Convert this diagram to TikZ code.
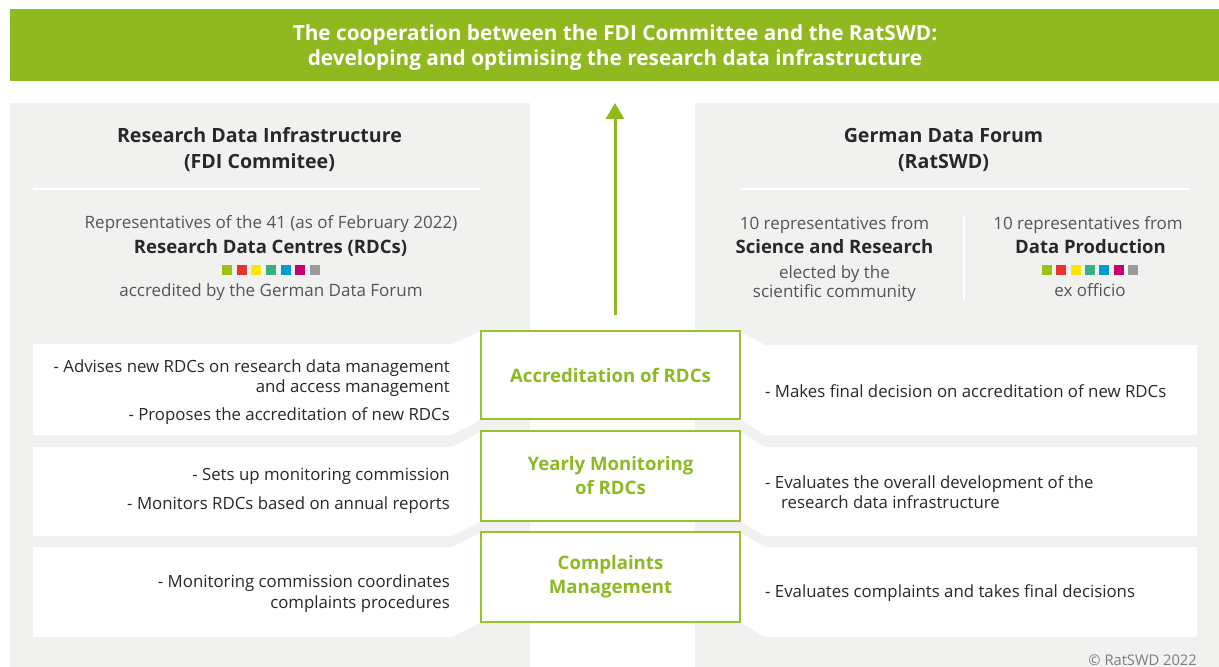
\documentclass[tikz,border=0pt]{standalone}
\usepackage{fontspec}
\setmainfont{Open Sans}
\usetikzlibrary{arrows.meta}

\definecolor{hdrgreen}{RGB}{143,185,30}
\definecolor{boxgreen}{RGB}{152,195,45}
\definecolor{lblgreen}{RGB}{141,185,35}
\definecolor{panelgray}{RGB}{241,241,240}
\definecolor{darktxt}{RGB}{40,40,40}
\definecolor{softtxt}{RGB}{85,85,85}
\definecolor{notetxt}{RGB}{125,125,125}
\definecolor{sqA}{RGB}{155,195,20}
\definecolor{sqB}{RGB}{233,50,50}
\definecolor{sqC}{RGB}{255,230,0}
\definecolor{sqD}{RGB}{60,175,130}
\definecolor{sqE}{RGB}{0,155,215}
\definecolor{sqF}{RGB}{200,0,110}
\definecolor{sqG}{RGB}{155,155,155}

\tikzset{
  plain/.style={inner sep=0pt, anchor=base, text=darktxt, font=\fontsize{16.8}{20}\selectfont},
  soft/.style={plain, text=softtxt, font=\fontsize{17}{20}\selectfont},
  strong/.style={plain, font=\fontsize{18.5}{22}\selectfont\bfseries},
  title/.style={plain, font=\fontsize{19.6}{25}\selectfont\bfseries},
  headline/.style={plain, text=white, font=\fontsize{20.8}{25}\selectfont\bfseries},
  stagebox/.style={draw=boxgreen, line width=1.6pt, fill=white, minimum width=259pt,
    align=center, text=lblgreen, font=\fontsize{18.6}{24}\selectfont\bfseries},
  rowfill/.style={fill=white},
  divider/.style={draw=white, line width=1.6pt},
  upflow/.style={draw=hdrgreen, line width=3pt, -{Triangle[width=18pt,length=16pt]}},
}

\begin{document}
\begin{tikzpicture}[x=1pt,y=-1pt]
\useasboundingbox (0,0) rectangle (1219,667);
\fill[white] (0,0) rectangle (1219,667);

% header band
\fill[hdrgreen] (10,9) rectangle (1219,81);
\node[headline, anchor=base] (head1) at (615,40) {The cooperation between the FDI Committee and the RatSWD:};
\node[headline, anchor=base] (head2) at (615,65) {developing and optimising the research data infrastructure};

% the two side panels
\fill[panelgray] (10,103) rectangle (530,667);
\fill[panelgray] (695,103) rectangle (1219,667);

% white rows, joined to the stage boxes by slanted edges
\fill[rowfill] (33,344) -- (452,344) -- (482,331) -- (482,419) -- (452,435) -- (33,435) -- cycle;
\fill[rowfill] (33,447) -- (452,447) -- (482,431) -- (482,521) -- (452,536) -- (33,536) -- cycle;
\fill[rowfill] (33,547) -- (452,547) -- (482,532) -- (482,622) -- (452,637) -- (33,637) -- cycle;
\fill[rowfill] (739,331) -- (765,345) -- (1197,345) -- (1197,435) -- (765,435) -- (739,419) -- cycle;
\fill[rowfill] (739,431) -- (765,447) -- (1197,447) -- (1197,536) -- (765,536) -- (739,521) -- cycle;
\fill[rowfill] (739,532) -- (765,547) -- (1197,547) -- (1197,637) -- (765,637) -- (739,622) -- cycle;

% panel titles and dividers
\node[title] (ltitle1) at (259.5,142) {Research Data Infrastructure};
\node[title] (ltitle2) at (259.5,168) {(FDI Commitee)};
\node[title] (rtitle1) at (943.5,142) {German Data Forum};
\node[title] (rtitle2) at (943.5,168) {(RatSWD)};
\draw[divider] (33,189) -- (480,189);
\draw[divider] (740,189) -- (1190,189);
\draw[divider] (964,217) -- (964,300);

% left panel members
\node[soft] (lrep) at (271,228) {Representatives of the 41 (as of February 2022)};
\node[strong] (lrdc) at (270.5,253) {Research Data Centres (RDCs)};
\node[soft] (lacc) at (271,296) {accredited by the German Data Forum};
\foreach \c [count=\i from 0] in {sqA,sqB,sqC,sqD,sqE,sqF,sqG}
  \fill[\c] (222+\i*14.67,265) rectangle ++(10,10);

% right panel members
\node[soft] (rrepA) at (834.5,229) {10 representatives from};
\node[strong] (rsci) at (834.5,253) {Science and Research};
\node[soft] (relA) at (834.5,278) {elected by the};
\node[soft] (relB) at (834.5,297) {scientific community};
\node[soft] (rrepB) at (1088,229) {10 representatives from};
\node[strong] (rdat) at (1090.5,253) {Data Production};
\node[soft] (rexo) at (1090,296) {ex officio};
\foreach \c [count=\i from 0] in {sqA,sqB,sqC,sqD,sqE,sqF,sqG}
  \fill[\c] (1042+\i*14.33,265) rectangle ++(10,10);

% central stages
\node[stagebox, minimum height=88pt] (acc) at (610.5,375) {\raisebox{-1.5pt}{Accreditation of RDCs}};
\node[stagebox, minimum height=90pt] (mon) at (610.5,476) {\raisebox{-1.5pt}{Yearly Monitoring}\\\raisebox{-1.5pt}{of RDCs}};
\node[stagebox, minimum height=90pt] (cmp) at (610.5,577) {Complaints\\Management};

% upward arrow towards the header
\coordinate (flowfoot) at (615,315);
\coordinate (flowtip) at (615,103);
\draw[upflow] (flowfoot) -- (flowtip);

% left row texts (FDI Committee)
\node[plain, anchor=base east] (l1a) at (450,372) {- Advises new RDCs on research data management};
\node[plain, anchor=base east] (l1b) at (450,392) {and access management};
\node[plain, anchor=base east] (l1c) at (450,420) {- Proposes the accreditation of new RDCs};
\node[plain, anchor=base east] (l2a) at (450,480) {- Sets up monitoring commission};
\node[plain, anchor=base east] (l2b) at (450,509) {- Monitors RDCs based on annual reports};
\node[plain, anchor=base east] (l3a) at (450,587) {- Monitoring commission coordinates};
\node[plain, anchor=base east] (l3b) at (450,608) {complaints procedures};

% right row texts (RatSWD)
\node[plain, anchor=base west] (r1a) at (765,397) {- Makes final decision on accreditation of new RDCs};
\node[plain, anchor=base west] (r2a) at (765,488) {- Evaluates the overall development of the};
\node[plain, anchor=base west] (r2b) at (781,508) {research data infrastructure};
\node[plain, anchor=base west] (r3a) at (765,597) {- Evaluates complaints and takes final decisions};

% copyright
\node[plain, anchor=base east, text=notetxt, font=\fontsize{14.7}{17}\selectfont] (copy) at (1197,665) {© RatSWD 2022};
\end{tikzpicture}
\end{document}
